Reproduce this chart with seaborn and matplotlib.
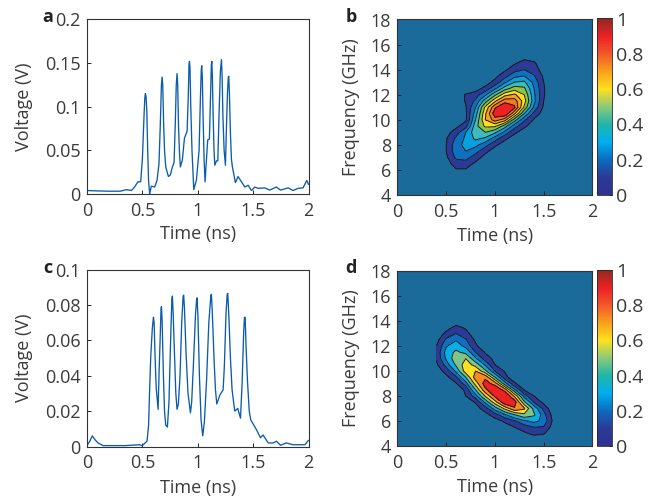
import numpy as np
import matplotlib
matplotlib.use("Agg")
import matplotlib.pyplot as plt
from matplotlib.colors import LinearSegmentedColormap, Normalize
from matplotlib.cm import ScalarMappable
import seaborn as sns

# pulse traces
time_a = [0, .1, .2, .3, .355, .40, .43, .46, .485, .50, .515, .522, .527, .533, .54, .548, .556, .566, .581, .611,
          .633, .65, .662, .672, .678, .684, .692, .70, .711, .735, .753, .771, .786, .797, .806, .813, .819, .826,
          .834, .843, .861, .88, .904, .914, .921, .925, .93, .937, .948, .964, .988, 1.012, 1.024, 1.032, 1.036,
          1.041, 1.048, 1.057, 1.066, 1.09, 1.105, 1.116, 1.123, 1.127, 1.132, 1.139, 1.147, 1.154, 1.169, 1.181,
          1.192, 1.204, 1.214, 1.22, 1.227, 1.238, 1.25, 1.26, 1.268, 1.276, 1.28, 1.286, 1.295, 1.304, 1.313, 1.34,
          1.364, 1.395, 1.425, 1.455, 1.485, 1.515, 1.545, 1.605, 1.65, 1.71, 1.747, 1.816, 1.86, 1.907, 1.95, 1.985,
          2]
volt_a = [.004, .0035, .0032, .0032, .005, .004, .008, .014, .014, .04, .09, .11, .115, .112, .095, .05, .015, 0,
          .009, .008, .016, .035, .08, .125, .134, .125, .08, .05, .031, .02, .022, .031, .036, .08, .125, .138, .125,
          .08, .05, .031, .039, .064, .072, .11, .148, .152, .145, .1, .05, .005, .016, .05, .11, .143, .147, .135,
          .09, .04, .014, .062, .063, .115, .148, .152, .135, .09, .05, .033, .038, .038, .09, .14, .154, .135, .09,
          .05, .033, .08, .115, .134, .135, .115, .07, .04, .031, .013, .02, .014, .008, .01, .004, .008, .0065, .007,
          .0045, .008, .0045, .007, .004, .0065, .007, .0155, .011]

time_c = [0, .025, .048, .07, .1, .145, .25, .35, .42, .476, .497, .542, .556, .566, .575, .59, .6, .606, .615, .625,
          .642, .65, .66, .668, .672, .678, .69, .70, .711, .726, .74, .755, .766, .771, .778, .79, .802, .813, .825,
          .84, .855, .868, .873, .88, .895, .912, .934, .945, .96, .98, .99, .994, 1.002, 1.015, 1.03, 1.045, 1.06,
          1.08, 1.1, 1.118, 1.123, 1.13, 1.148, 1.16, 1.172, 1.199, 1.229, 1.24, 1.255, 1.266, 1.271, 1.28, 1.295,
          1.31, 1.334, 1.361, 1.386, 1.4, 1.415, 1.422, 1.428, 1.437, 1.449, 1.465, 1.479, 1.53, 1.566, 1.59, 1.636,
          1.68, 1.71, 1.747, 1.80, 1.86, 1.967, 2]
volt_c = [.0005, .003, .006, .004, .002, .0005, .0005, .0005, .0008, .001, .0004, .003, .012, .033, .05, .067, .073,
          .07, .05, .033, .021, .04, .06, .077, .079, .072, .04, .02, .012, .011, .025, .06, .083, .085, .075, .052,
          .03, .021, .024, .04, .07, .085, .0855, .078, .052, .03, .019, .025, .045, .075, .083, .084, .073, .04,
          .015, .006, .014, .038, .07, .085, .086, .078, .048, .032, .024, .029, .032, .045, .075, .086, .0865, .075,
          .05, .032, .02, .0215, .016, .035, .065, .073, .073, .055, .037, .02, .015, .0095, .005, .0065, .002, .002,
          .003, .0007, .002, .001, .001, .0035]

# spectrogram cells, rows are frequency, columns are time
grid_time = [.4, .5, .6, .7, .8, .9, 1.0, 1.1, 1.2, 1.3, 1.4, 1.5, 1.6]
grid_freq = [4.5, 5, 5.5, 6, 6.5, 7, 7.5, 8, 8.5, 9, 9.5, 10, 10.5, 11, 11.5, 12, 12.5, 13, 13.5, 14, 14.5, 15, 15.5]
power_b = [
    [0, 0, 0, 0, 0, 0, 0, 0, 0, 0, 0, 0, 0],
    [0, 0, 0, 0, 0, 0, 0, 0, 0, 0, 0, 0, 0],
    [0, 0, .02, .02, 0, 0, 0, 0, 0, 0, 0, 0, 0],
    [0, .02, .09, .09, .04, 0, 0, 0, 0, 0, 0, 0, 0],
    [0, .05, .15, .15, .08, .01, 0, 0, 0, 0, 0, 0, 0],
    [0, .08, .22, .24, .15, .06, .01, 0, 0, 0, 0, 0, 0],
    [0, .10, .26, .30, .24, .13, .05, .01, 0, 0, 0, 0, 0],
    [0, .10, .26, .33, .33, .24, .12, .05, .01, 0, 0, 0, 0],
    [0, .09, .22, .32, .42, .38, .25, .12, .05, .01, 0, 0, 0],
    [0, .06, .15, .30, .47, .50, .42, .27, .12, .05, .01, 0, 0],
    [0, .02, .07, .16, .46, .62, .62, .45, .25, .12, .05, 0, 0],
    [0, 0, .03, .08, .40, .70, .85, .75, .45, .22, .09, .02, 0],
    [0, 0, .02, .08, .35, .68, .97, 1.0, .72, .40, .17, .05, 0],
    [0, 0, .02, .09, .30, .62, .88, 1.0, .92, .58, .28, .08, 0],
    [0, 0, .02, .11, .22, .45, .68, .86, .85, .65, .33, .10, 0],
    [0, 0, .02, .11, .15, .28, .48, .66, .72, .60, .32, .11, 0],
    [0, 0, 0, .02, .05, .13, .28, .45, .55, .52, .30, .11, 0],
    [0, 0, 0, 0, .01, .05, .13, .28, .40, .42, .27, .10, 0],
    [0, 0, 0, 0, 0, .02, .07, .16, .27, .30, .21, .08, 0],
    [0, 0, 0, 0, 0, 0, .01, .08, .16, .20, .15, .05, 0],
    [0, 0, 0, 0, 0, 0, 0, .02, .09, .14, .12, .02, 0],
    [0, 0, 0, 0, 0, 0, 0, 0, .02, .07, .05, 0, 0],
    [0, 0, 0, 0, 0, 0, 0, 0, 0, 0, 0, 0, 0],
]
power_d = [
    [0, 0, 0, 0, 0, 0, 0, 0, 0, .01, .02, .01, 0],
    [0, 0, 0, 0, 0, 0, 0, 0, .02, .08, .13, .11, .01],
    [0, 0, 0, 0, 0, 0, 0, .04, .10, .15, .20, .19, .05],
    [0, 0, 0, 0, 0, .01, .05, .12, .19, .28, .33, .27, .07],
    [0, 0, 0, 0, .01, .06, .16, .28, .42, .52, .44, .24, .05],
    [0, 0, 0, 0, .05, .15, .35, .58, .80, .70, .37, .17, .02],
    [0, 0, 0, .03, .11, .32, .62, .92, .90, .45, .20, .07, 0],
    [0, 0, .01, .10, .25, .56, .85, 1.0, .65, .25, .10, .02, 0],
    [0, 0, .03, .12, .42, .78, .98, .75, .32, .09, .01, 0, 0],
    [0, .02, .09, .25, .60, .90, .75, .35, .12, .01, 0, 0, 0],
    [.01, .07, .18, .42, .75, .78, .42, .14, .02, 0, 0, 0, 0],
    [.04, .14, .32, .62, .68, .45, .20, .09, 0, 0, 0, 0, 0],
    [.08, .24, .44, .62, .50, .28, .10, .02, 0, 0, 0, 0, 0],
    [.11, .32, .50, .55, .32, .15, .07, 0, 0, 0, 0, 0, 0],
    [.12, .34, .45, .38, .20, .09, .01, 0, 0, 0, 0, 0, 0],
    [.10, .29, .36, .27, .12, .03, 0, 0, 0, 0, 0, 0, 0],
    [.06, .22, .29, .21, .08, 0, 0, 0, 0, 0, 0, 0, 0],
    [.02, .13, .20, .14, .03, 0, 0, 0, 0, 0, 0, 0, 0],
    [0, .05, .13, .08, 0, 0, 0, 0, 0, 0, 0, 0, 0],
    [0, 0, .02, .01, 0, 0, 0, 0, 0, 0, 0, 0, 0],
    [0, 0, 0, 0, 0, 0, 0, 0, 0, 0, 0, 0, 0],
    [0, 0, 0, 0, 0, 0, 0, 0, 0, 0, 0, 0, 0],
    [0, 0, 0, 0, 0, 0, 0, 0, 0, 0, 0, 0, 0],
]

time_ticks = [0, .5, 1, 1.5, 2]
time_labels = ['0', '0.5', '1', '1.5', '2']
volt_ticks_a = [0, .05, .1, .15, .2]
volt_labels_a = ['0', '0.05', '0.1', '0.15', '0.2']
volt_ticks_c = [0, .02, .04, .06, .08, .1]
volt_labels_c = ['0', '0.02', '0.04', '0.06', '0.08', '0.1']
freq_ticks = [4, 6, 8, 10, 12, 14, 16, 18]
bar_ticks = [0, .2, .4, .6, .8, 1]
bar_labels = ['0', '0.2', '0.4', '0.6', '0.8', '1']
levels_b = [0, .1, .2, .3, .4, .5, .6, .7, .8, .9, 1.01]
colors_b = ['#1a6a9a', '#2b3a94', '#0f6fc0', '#08a0de', '#3cbcc0', '#8cc63f', '#fde020', '#f9a11b', '#f47a20',
            '#ed2024']
levels_d = [0, .1, .2, .3, .42, .55, .68, .82, 1.01]
colors_d = ['#1a6a9a', '#2b3a94', '#0f6fc0', '#08aee8', '#7cc68c', '#fde020', '#f58a20', '#ed2024']
bar_colors = ['#2e3192', '#2b3a94', '#0b6cc0', '#00aeef', '#20b5a8', '#8cc97a', '#fde020', '#f9a11b', '#f1592a',
              '#ed2024', '#8f2a20']

sns.set_theme(style='ticks')
plt.rcParams['font.family'] = ['Open Sans', 'DejaVu Sans']
text_color = '#3a3a3a'
W, H = 655, 498


def place(fig, left, top, right, bottom):
    return fig.add_axes([left / W, 1 - bottom / H, (right - left) / W, (bottom - top) / H])


def finish(ax, ylabel, yticks, ylabels, ylim, label_x):
    ax.set_xlim(0, 2)
    ax.set_ylim(*ylim)
    ax.set_xticks(time_ticks, time_labels)
    ax.set_yticks(yticks, ylabels)
    ax.set_xlabel('Time (ns)', color=text_color, fontsize=13, va='center')
    ax.set_ylabel(ylabel, color=text_color, fontsize=13, va='center')
    ax.xaxis.set_label_coords(.5, -.232)
    ax.yaxis.set_label_coords(label_x, .5)
    ax.tick_params(direction='in', length=3, width=.7, labelsize=13, labelcolor=text_color, color='#222222')
    ax.tick_params(axis='x', pad=5.5)
    ax.tick_params(axis='y', pad=4.5)
    for s in ax.spines.values():
        s.set_visible(True)
        s.set_linewidth(.8)
        s.set_color('#333333')


fig = plt.figure(figsize=(W / 100, H / 100), dpi=100)

ax_a = place(fig, 87, 19.5, 308.5, 194)
sns.lineplot(x=time_a, y=volt_a, ax=ax_a, color='#0a5cab', linewidth=.95, estimator=None, sort=False)
finish(ax_a, 'Voltage (V)', volt_ticks_a, volt_labels_a, (0, .2), -.285)

ax_c = place(fig, 87, 269.5, 308.5, 446.5)
sns.lineplot(x=time_c, y=volt_c, ax=ax_c, color='#0a5cab', linewidth=.95, estimator=None, sort=False)
finish(ax_c, 'Voltage (V)', volt_ticks_c, volt_labels_c, (0, .1), -.285)

cmap = LinearSegmentedColormap.from_list('bar', bar_colors)
panels = [(power_b, levels_b, colors_b, 19.5, 195), (power_d, levels_d, colors_d, 271, 446)]
for power, levels, colors, top, bottom in panels:
    ax = place(fig, 397.5, top, 592.5, bottom)
    ax.set_facecolor(colors[0])
    ax.contourf(grid_time, grid_freq, power, levels=levels, colors=colors)
    ax.contour(grid_time, grid_freq, power, levels=levels[1:-1], colors='#1a1a1a', linewidths=.7)
    finish(ax, 'Frequency (GHz)', freq_ticks, [str(f) for f in freq_ticks], (4, 18), -.238)
    cax = place(fig, 597, top - 1, 612, bottom)
    cb = fig.colorbar(ScalarMappable(Normalize(0, 1), cmap), cax=cax)
    cb.set_ticks(bar_ticks, labels=bar_labels)
    cb.ax.tick_params(direction='in', length=2.5, width=.7, labelsize=14, labelcolor=text_color, pad=3)
    cb.outline.set_linewidth(.6)

for label, x, y in [('a', 48, 17), ('b', 351, 17), ('c', 48, 268), ('d', 351, 268)]:
    fig.text(x / W, 1 - y / H, label, fontsize=13, fontweight='bold', color='#222222', ha='center', va='center')

fig.savefig('out.png', dpi=100)
